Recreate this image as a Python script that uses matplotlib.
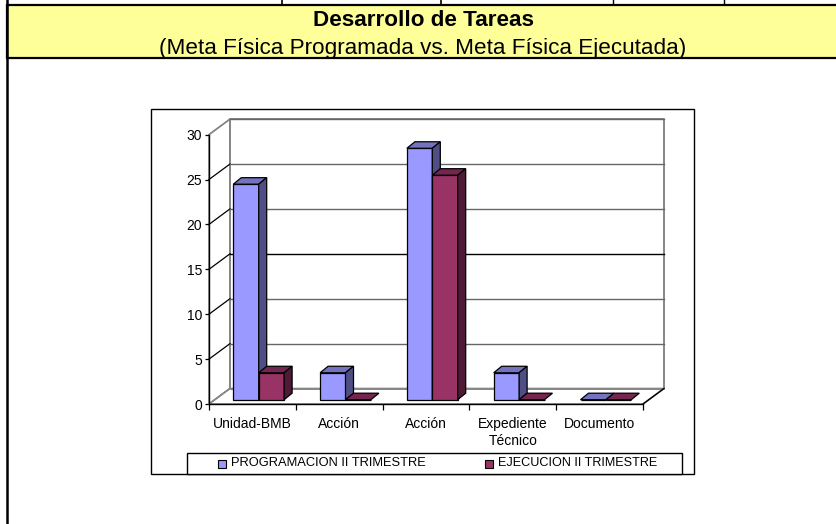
import numpy as np
import matplotlib
matplotlib.use('Agg')
import matplotlib.pyplot as plt
from matplotlib.patches import Polygon, Rectangle

categories = ['Unidad-BMB', 'Acción', 'Acción', 'Expediente\nTécnico', 'Documento']
programacion = [24, 3, 28, 3, 0]
ejecucion = [3, 0, 25, 0, 0]
series_names = ['PROGRAMACION II TRIMESTRE', 'EJECUCION II TRIMESTRE']
y_ticks = [0, 5, 10, 15, 20, 25, 30]

W, H = 836, 524
plt.rcParams['font.family'] = ['Liberation Sans', 'DejaVu Sans']

fig = plt.figure(figsize=(W / 100, H / 100), dpi=100)

# page layer, in pixels of the picture
page = fig.add_axes([0, 0, 1, 1])
page.set_xlim(0, W)
page.set_ylim(H, 0)
page.axis('off')

page.add_patch(Rectangle((6.5, 5), W, 52.5, fc='#ffff99', ec='black', lw=1.6))
page.plot([6.5, 6.5], [0, H], color='black', lw=1.8)
for x in [281.5, 441]:
    page.plot([x, x], [0, 5], color='black', lw=1.2)
for x in [613, 724]:
    page.plot([x, x], [0, 3], color='black', lw=1)
page.text(423.5, 20, 'Desarrollo de Tareas', ha='center', va='center', fontsize=16.2, fontweight='bold')
page.text(423, 48.5, '(Meta Física Programada vs. Meta Física Ejecutada)', ha='center', va='center', fontsize=16.2)

# chart box and legend box
page.add_patch(Rectangle((151, 108.5), 543, 365.5, fc='white', ec='black', lw=1))
page.add_patch(Rectangle((187, 453), 495, 21, fc='white', ec='black', lw=1))

# front plane of the 3d chart
ax = fig.add_axes([209 / W, 1 - 404 / H, 434 / W, 269.4 / H])
ax.set_xlim(0, 5)
ax.set_ylim(0, 30)
ax.patch.set_alpha(0)
for s in ['top', 'right']:
    ax.spines[s].set_visible(False)
ax.spines['left'].set_linewidth(1)
ax.spines['bottom'].set_linewidth(1)

dx = 21 / 86.8   # wall depth in category units
dy = 15.5 / 8.98  # wall depth in value units
GREY = '#868686'

# walls and floor
ax.add_patch(Polygon([(0, 0), (dx, dy), (dx, 30 + dy), (0, 30)], closed=True, fc='white', ec=GREY, lw=1.2, clip_on=False))
ax.add_patch(Polygon([(0, 0), (5, 0), (5 + dx, dy), (dx, dy)], closed=True, fc='white', ec=GREY, lw=1.2, clip_on=False))
ax.plot([dx, dx, 5 + dx, 5 + dx, dx], [dy, 30 + dy, 30 + dy, dy, dy], color=GREY, lw=1.4, clip_on=False)
ax.plot([5, 5 + dx], [0, dy], color='black', lw=1, clip_on=False)
for t in y_ticks:
    ax.plot([0, dx], [t, t + dy], color='black' if 0 < t < 30 else GREY, lw=0.9, clip_on=False)
    if t > 0:
        ax.plot([dx, 5 + dx], [t + dy, t + dy], color='black' if t == 15 else '#666666', lw=1, clip_on=False)


def draw_bars(values, start, front, side, top):
    bw = 25.4 / 86.8
    ddx = 8 / 86.8
    ddy = 6.5 / 8.98
    base = 4.3 / 8.98
    x = np.arange(len(values)) + start
    ax.bar(x, values, width=bw, bottom=base, align='edge', color=front, edgecolor='black', lw=0.9, zorder=3, clip_on=False)
    for xi, v in zip(x, values):
        yt = base + v
        ax.add_patch(Polygon([(xi, yt), (xi + bw, yt), (xi + bw + ddx, yt + ddy), (xi + ddx, yt + ddy)], closed=True, fc=top, ec='black', lw=0.9, zorder=3, clip_on=False))
        if v > 0:
            ax.add_patch(Polygon([(xi + bw, base), (xi + bw + ddx, base + ddy), (xi + bw + ddx, yt + ddy), (xi + bw, yt)], closed=True, fc=side, ec='black', lw=0.9, zorder=3, clip_on=False))


draw_bars(programacion, 24.3 / 86.8, '#9999ff', '#4f4f85', '#7373c0')
draw_bars(ejecucion, 49.7 / 86.8, '#993366', '#4f1a35', '#732650')

ax.set_xticks(np.arange(6))
ax.set_xticklabels([])
ax.tick_params(axis='x', length=4, width=0.9, direction='out')
for i, c in enumerate(categories):
    ax.annotate(c, (i + 0.5, 0), xytext=(0, -9.5), textcoords='offset points', ha='center', va='top', fontsize=10, linespacing=1.25)
ax.set_yticks(y_ticks)
ax.tick_params(axis='y', length=3, width=0.9, labelsize=10, pad=2)

# legend
page.add_patch(Rectangle((218, 459.5), 8, 8, fc='#9999ff', ec='black', lw=0.8))
page.text(231, 463.5, series_names[0], va='center', fontsize=9.3)
page.add_patch(Rectangle((485, 459.5), 8, 8, fc='#993366', ec='black', lw=0.8))
page.text(498.5, 463.5, series_names[1], va='center', fontsize=9.05)

fig.savefig('out.png', dpi=100)
